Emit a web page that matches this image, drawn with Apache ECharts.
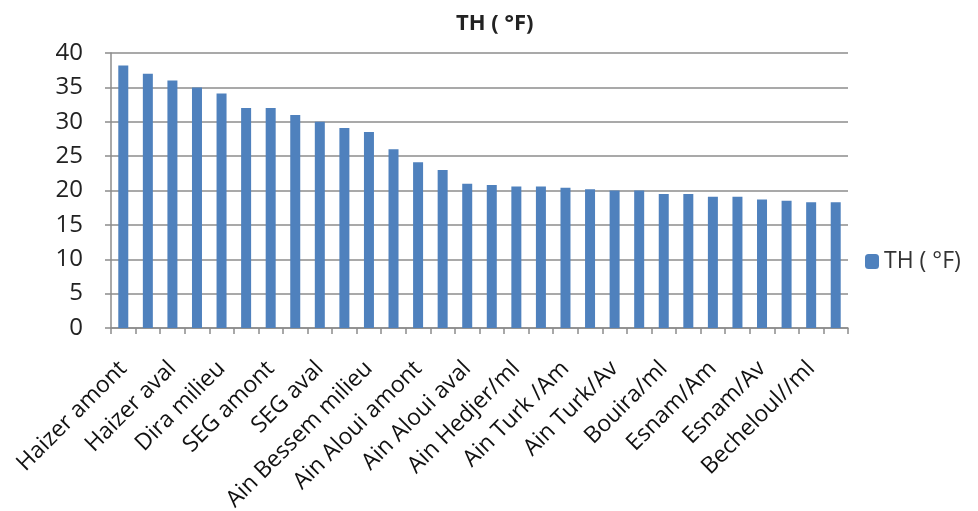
<!DOCTYPE html>
<html>
<head>
<meta charset="utf-8">
<script src="https://cdn.jsdelivr.net/npm/echarts@6/dist/echarts.min.js"></script>
<style>html,body{margin:0;padding:0;background:#fff}#c{width:978px;height:511px}</style>
</head>
<body>
<div id="c"></div>
<script>
const title = "TH ( °F)";
const seriesName = "TH ( °F)";
const categories = [
  "Haizer amont", "Haizer milieu", "Haizer aval", "Dira amont", "Dira milieu", "Dira aval",
  "SEG amont", "SEG milieu", "SEG aval", "Ain Bessem amont", "Ain Bessem milieu", "Ain Bessem aval",
  "Ain Aloui amont", "Ain Aloui milieu", "Ain Aloui aval", "Ain Hedjer/Am", "Ain Hedjer/ml", "Ain Hedjer/Av",
  "Ain Turk /Am", "Ain Turk/ml", "Ain Turk/Av", "Bouira/Am", "Bouira/ml", "Bouira/Av",
  "Esnam/Am", "Esnam/ml", "Esnam/Av", "Becheloul/Am", "Becheloul//ml", "Becheloul/Av"
];
const values = [
  38.2, 37.0, 36.0, 35.0, 34.1, 32.0, 32.0, 31.0, 30.0, 29.1,
  28.5, 26.0, 24.1, 23.0, 21.0, 20.8, 20.6, 20.6, 20.4, 20.2,
  20.0, 20.0, 19.5, 19.5, 19.1, 19.1, 18.7, 18.5, 18.3, 18.3
];
const yTicks = [0, 5, 10, 15, 20, 25, 30, 35, 40];

const chart = echarts.init(document.getElementById('c'), null, {renderer: 'canvas'});
chart.setOption({
  animation: false,
  backgroundColor: '#ffffff',
  title: {
    text: title, left: 451, top: 8,
    textStyle: {fontFamily: 'Open Sans', fontWeight: 'bold', fontSize: 22, color: '#222'}
  },
  legend: {
    data: [seriesName], left: 860, top: 245, orient: 'vertical',
    itemWidth: 14, itemHeight: 15, itemGap: 5,
    textStyle: {fontFamily: 'Open Sans', fontSize: 23, color: '#333'}
  },
  grid: {left: 111, right: 130, top: 53, bottom: 183, containLabel: false, outerBoundsMode: 'none'},
  xAxis: {
    type: 'category', data: categories, boundaryGap: true,
    axisLine: {lineStyle: {color: '#8c8c8c', width: 1.5}},
    axisTick: {show: true, interval: 0, length: 6, lineStyle: {color: '#8c8c8c', width: 1.5}},
    axisLabel: {interval: 1, rotate: 45, margin: 37, fontFamily: 'Open Sans', fontSize: 23, color: '#111'}
  },
  yAxis: {
    type: 'value', min: yTicks[0], max: yTicks[yTicks.length - 1], interval: 5,
    axisLine: {show: true, lineStyle: {color: '#8c8c8c', width: 1.5}},
    axisTick: {show: true, length: 6, lineStyle: {color: '#8c8c8c', width: 1.5}},
    splitLine: {lineStyle: {color: '#8c8c8c', width: 1.5}},
    axisLabel: {margin: 28, fontFamily: 'Open Sans', fontSize: 24, color: '#222'}
  },
  series: [{
    name: seriesName, type: 'bar', data: values, barWidth: 10,
    itemStyle: {color: '#4f81bd'}
  }]
});
</script>
</body>
</html>
